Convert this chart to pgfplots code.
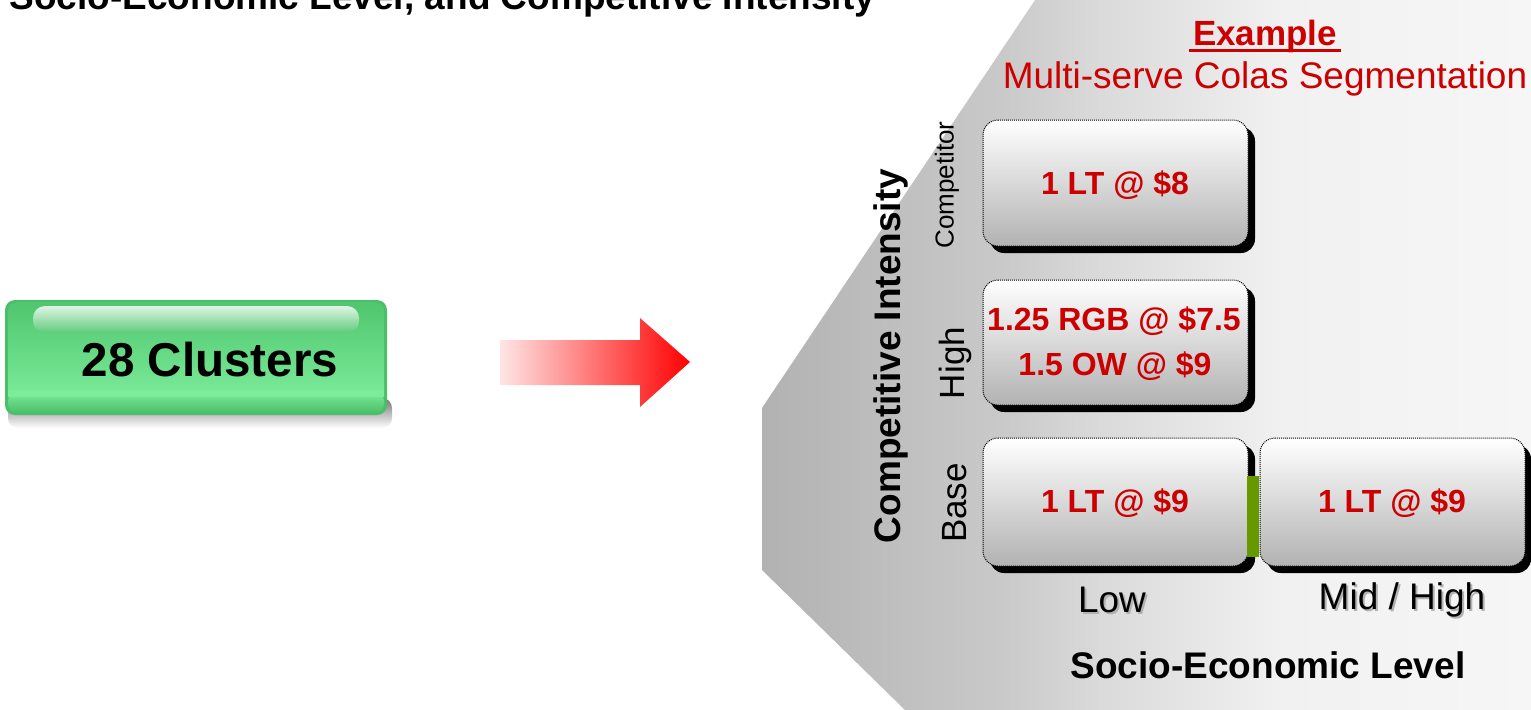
\documentclass[border=0pt]{standalone}
\usepackage{pgfplots}
\pgfplotsset{compat=1.18}
\usepackage{fontspec}
\setmainfont{Liberation Sans}
\newcommand{\fs}[1]{\fontsize{#1bp}{#1bp}\selectfont}
\definecolor{tred}{RGB}{204,0,0}
\definecolor{gbar}{RGB}{102,153,0}
\definecolor{gtop}{RGB}{80,198,110}
\definecolor{gmid}{RGB}{106,222,138}
\definecolor{gbot}{RGB}{124,236,154}
\definecolor{grim}{RGB}{74,190,104}
\definecolor{boxb}{RGB}{178,178,178}
\definecolor{boxm}{RGB}{232,232,232}
\definecolor{bg1}{RGB}{178,178,178}
\definecolor{bg2}{RGB}{201,201,201}
\definecolor{bg3}{RGB}{218,218,218}
\definecolor{bg4}{RGB}{241,241,241}
\definecolor{bg5}{RGB}{246,246,246}
\pgfdeclarehorizontalshading{bgshade}{100bp}{color(0bp)=(bg1); color(25bp)=(bg1); color(40.5bp)=(bg2); color(47bp)=(bg3); color(59bp)=(bg4); color(75bp)=(bg5); color(100bp)=(bg5)}
\begin{document}
\begin{tikzpicture}
\begin{axis}[scale only axis, width=1531bp, height=710bp,
  xmin=0, xmax=1531, ymin=0, ymax=710, y dir=reverse,
  axis lines=none, ticks=none, clip=false,
  every axis plot/.append style={no marks}]

% background chevron
\addplot[draw=none, shading=bgshade]
  coordinates {(1035,0)(1531,0)(1531,710)(905,710)(762,570)(762,408)} -- cycle;

% title (cut off at the top, as in the reference)
\node[anchor=base west, font=\bfseries\fs{37}] at (axis cs:6,9)
  {Socio-Economic Level, and Competitive Intensity};

% green button: soft shadow, body, bottom rim, highlight
\addplot[draw=none, top color=black!55, bottom color=white, rounded corners=10bp]
  coordinates {(8,398)(392,398)(392,428)(8,428)} -- cycle;
\addplot[draw=none, fill=grim, rounded corners=10bp]
  coordinates {(5,300)(387,300)(387,415)(5,415)} -- cycle;
\addplot[draw=none, top color=gtop, middle color=gmid, bottom color=gbot, rounded corners=9bp]
  coordinates {(8,302)(384,302)(384,400)(8,400)} -- cycle;
\addplot[draw=none, top color=gbot, bottom color=grim, rounded corners=9bp]
  coordinates {(8,392)(384,392)(384,413)(8,413)} -- cycle;
\addplot[draw=none, top color=gbot, bottom color=gbot]
  coordinates {(8,390)(384,390)(384,396)(8,396)} -- cycle;
\addplot[draw=none, top color=white!82!gtop, bottom color=gtop!92!white, rounded corners=12bp]
  coordinates {(33,306)(359,306)(359,333)(33,333)} -- cycle;
\node[font=\bfseries\fs{47.5}] at (axis cs:210,360) {28 Clusters};

% arrow
\addplot[draw=none, left color=red!10, right color=red]
  coordinates {(500,340)(640,340)(640,318)(690,362)(640,407)(640,385)(500,385)} -- cycle;

% headings
\node[anchor=base, font=\bfseries\fs{35}, text=tred] at (axis cs:1265,45) {Example};
\addplot[tred, line width=3bp] coordinates {(1189,50)(1341,50)};
\node[anchor=base, font=\fs{37}, text=tred] at (axis cs:1265,88) {Multi-serve Colas Segmentation};

% Competitor cell
\addplot[draw=none, fill=black, rounded corners=14bp]
  coordinates {(990,127)(1255,127)(1255,253)(990,253)} -- cycle;
\addplot[draw=black, densely dotted, line width=1bp, top color=white, middle color=boxm, bottom color=boxb, rounded corners=15bp]
  coordinates {(983,120)(1248,120)(1248,246)(983,246)} -- cycle;
% High cell
\addplot[draw=none, fill=black, rounded corners=14bp]
  coordinates {(990,287)(1255,287)(1255,412)(990,412)} -- cycle;
\addplot[draw=black, densely dotted, line width=1bp, top color=white, middle color=boxm, bottom color=boxb, rounded corners=15bp]
  coordinates {(983,280)(1248,280)(1248,405)(983,405)} -- cycle;
% Base / Low cell
\addplot[draw=none, fill=black, rounded corners=14bp]
  coordinates {(990,445)(1255,445)(1255,573)(990,573)} -- cycle;
\addplot[draw=black, densely dotted, line width=1bp, top color=white, middle color=boxm, bottom color=boxb, rounded corners=15bp]
  coordinates {(983,438)(1248,438)(1248,566)(983,566)} -- cycle;
% green connector
\addplot[draw=none, fill=gbar]
  coordinates {(1247,476)(1259,476)(1259,557)(1247,557)} -- cycle;
% Base / Mid-High cell
\addplot[draw=none, fill=black, rounded corners=14bp]
  coordinates {(1267,445)(1531,445)(1531,573)(1267,573)} -- cycle;
\addplot[draw=black, densely dotted, line width=1bp, top color=white, middle color=boxm, bottom color=boxb, rounded corners=15bp]
  coordinates {(1260,438)(1525,438)(1525,566)(1260,566)} -- cycle;

% cell texts
\node[font=\bfseries\fs{32}, text=tred] at (axis cs:1115,185) {1 LT @ \$8};
\node[font=\bfseries\fs{32}, text=tred] at (axis cs:1114,321) {1.25 RGB @ \$7.5};
\node[font=\bfseries\fs{32}, text=tred] at (axis cs:1115,366) {1.5 OW @ \$9};
\node[font=\bfseries\fs{32}, text=tred] at (axis cs:1115,503) {1 LT @ \$9};
\node[font=\bfseries\fs{32}, text=tred] at (axis cs:1392,503) {1 LT @ \$9};

% row labels
\node[rotate=90, font=\fs{26}] at (axis cs:947,185) {Competitor};
\node[rotate=90, font=\fs{35}] at (axis cs:955,363) {High};
\node[rotate=90, font=\fs{35}] at (axis cs:955,503) {Base};
\node[rotate=90, font=\bfseries\fs{37}] at (axis cs:891,356) {Competitive Intensity};

% column labels
\node[font=\fs{37}, text=black!30] at (axis cs:1114,602) {Low};
\node[font=\fs{37}] at (axis cs:1112,600) {Low};
\node[font=\fs{37}, text=black!30] at (axis cs:1404,602) {Mid / High};
\node[font=\fs{37}] at (axis cs:1402,600) {Mid / High};
\node[font=\bfseries\fs{37}] at (axis cs:1268,665) {Socio-Economic Level};
\end{axis}
\pgfresetboundingbox
\path[use as bounding box] (0,0) rectangle (1531bp,710bp);
\end{tikzpicture}
\end{document}
